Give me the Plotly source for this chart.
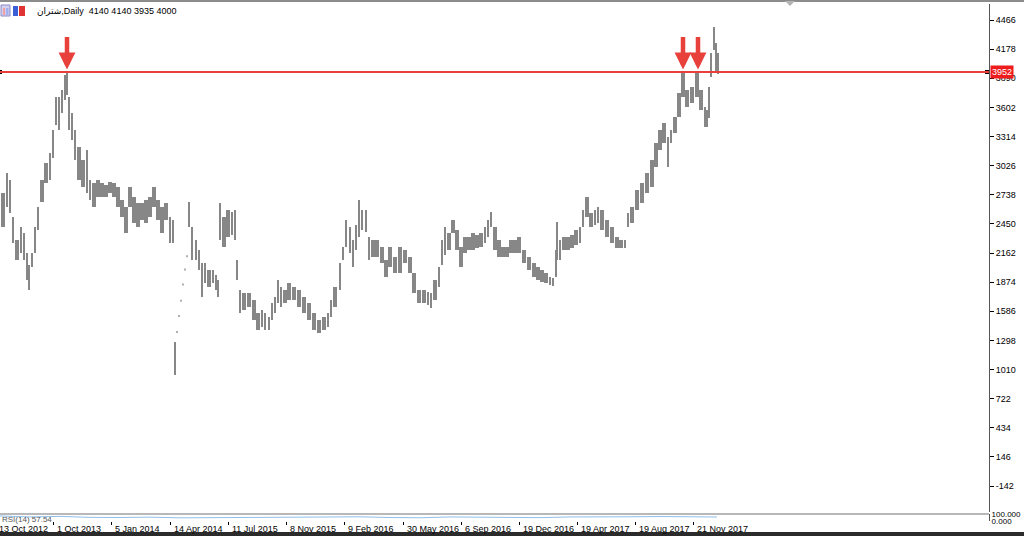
import numpy as np
import plotly.graph_objects as go

# ---------------- data ----------------
bar_idx = [3, 7, 10, 13, 17, 21, 24, 27, 29, 32, 35, 38, 42, 46, 50, 53, 56, 59, 62, 65,
           67, 69, 72, 75, 79, 83, 87, 90, 94, 98, 102, 106, 110, 114, 118, 122, 126, 130, 134, 138,
           142, 146, 150, 154, 158, 162, 166, 170, 173, 175, 189, 192, 196, 199, 202, 205, 209, 213, 216, 218,
           220, 224, 228, 232, 235, 237, 240, 244, 249, 254, 258, 262, 265, 269, 272, 275, 278, 281, 285, 289,
           294, 299, 304, 309, 314, 319, 324, 328, 331, 335, 340, 343, 346, 350, 353, 356, 359, 362, 366, 369,
           373, 377, 382, 386, 390, 395, 400, 405, 410, 414, 419, 424, 428, 431, 435, 439, 442, 445, 449, 453,
           457, 461, 465, 469, 473, 477, 481, 485, 488, 491, 495, 499, 503, 507, 511, 515, 519, 524, 529, 534,
           538, 542, 546, 550, 553, 556, 557, 560, 564, 568, 572, 576, 580, 583, 587, 591, 595, 598, 602, 607,
           612, 617, 621, 625, 628, 632, 637, 642, 647, 652, 656, 660, 664, 668, 671, 675, 679, 683, 687, 692,
           697, 701, 705, 707, 709, 711, 714, 716, 718]
high = [2755, 2953, 2884, 2518, 2291, 2419, 2360, 2162, 2043, 2162, 2419, 2617, 2884, 3052, 3151, 3378, 3705, 3705, 3774, 3922,
        3952, 3705, 3547, 3378, 3210, 3082, 3181, 2884, 2854, 2884, 2854, 2835, 2864, 2854, 2815, 2686, 2617, 2815, 2716, 2657,
        2657, 2686, 2716, 2815, 2686, 2617, 2657, 2518, 2488, 1282, 2666, 2419, 2291, 2192, 2063, 2063, 1994, 1994, 1945, 1895,
        2657, 2518, 2587, 2568, 2587, 2093, 1796, 1767, 1767, 1697, 1569, 1599, 1569, 1529, 1668, 1727, 1895, 1826, 1796, 1866,
        1826, 1796, 1727, 1668, 1569, 1500, 1529, 1569, 1697, 1826, 2063, 2221, 2488, 2419, 2291, 2440, 2686, 2587, 2587, 2320,
        2291, 2291, 2221, 2093, 2221, 2123, 2221, 2192, 2123, 1964, 1796, 1796, 1776, 1767, 1895, 2024, 2291, 2419, 2360, 2488,
        2390, 2221, 2320, 2320, 2360, 2340, 2360, 2419, 2488, 2568, 2419, 2291, 2221, 2221, 2291, 2291, 2320, 2192, 2123, 2063,
        2024, 1994, 1964, 1925, 1915, 2192, 2469, 2291, 2320, 2320, 2340, 2390, 2419, 2587, 2716, 2558, 2587, 2617, 2587, 2488,
        2419, 2320, 2291, 2291, 2558, 2617, 2785, 2854, 2953, 3082, 3250, 3378, 3448, 3309, 3378, 3507, 3744, 3952, 3774, 3804,
        3945, 3774, 3606, 3580, 3800, 4140, 4397, 4239, 4140]
low = [2420, 2617, 2558, 2261, 2093, 2162, 2093, 1895, 1796, 2024, 2162, 2390, 2666, 2854, 2884, 3100, 3428, 3378, 3547, 3675,
       3724, 3378, 3280, 3082, 2884, 2815, 2755, 2686, 2617, 2716, 2716, 2716, 2755, 2716, 2617, 2518, 2360, 2617, 2459, 2419,
       2488, 2459, 2518, 2617, 2488, 2360, 2488, 2261, 2261, 956, 2419, 2093, 2093, 1994, 1727, 1866, 1826, 1866, 1796, 1727,
       2291, 2221, 2320, 2340, 2291, 1895, 1569, 1599, 1628, 1500, 1401, 1430, 1401, 1401, 1500, 1569, 1668, 1628, 1668, 1697,
       1697, 1628, 1569, 1500, 1401, 1371, 1401, 1430, 1529, 1628, 1796, 2093, 2221, 2162, 2024, 2192, 2320, 2390, 2370, 2093,
       2123, 2123, 2063, 1925, 2024, 1964, 1964, 2063, 1964, 1767, 1668, 1668, 1648, 1618, 1697, 1826, 2043, 2143, 2192, 2360,
       2192, 2024, 2162, 2192, 2192, 2212, 2221, 2261, 2320, 2419, 2192, 2123, 2123, 2123, 2162, 2162, 2162, 2063, 1994, 1925,
       1895, 1875, 1866, 1846, 1836, 1925, 2093, 2093, 2192, 2192, 2212, 2241, 2261, 2419, 2518, 2419, 2439, 2459, 2390, 2320,
       2261, 2212, 2212, 2212, 2419, 2459, 2587, 2657, 2755, 2815, 3012, 3181, 3250, 3012, 3250, 3349, 3507, 3705, 3606, 3645,
       3705, 3576, 3408, 3408, 3500, 3902, 4169, 3942, 3935]

# isolated single-price bars (dotted stretch)
dot_idx = [177, 179, 181, 183, 185, 187]
dot_val = [1380, 1540, 1690, 1850, 2000, 2130]

# RSI(14) sub-window (rough reading)
rsi_idx = [0, 30, 60, 90, 120, 150, 180, 210, 240, 270, 300, 330, 360, 390, 420, 450, 480,
           510, 540, 570, 600, 630, 660, 690, 717]
rsi_val = [72, 58, 66, 52, 50, 55, 45, 48, 44, 52, 50, 55, 60, 50, 46, 58, 55,
           52, 48, 58, 55, 60, 64, 60, 57]

resistance = 3952
arrow_idx = [67, 683, 698]

y_ticks = [4466, 4178, 3890, 3602, 3314, 3026, 2738, 2450, 2162, 1874, 1586, 1298,
           1010, 722, 434, 146, -142]
date_tick_idx = [-5, 53, 111, 170, 228, 286, 344, 403, 461, 519, 577, 635, 693]
date_labels = ["13 Oct 2012", "1 Oct 2013", "5 Jan 2014", "14 Apr 2014", "11 Jul 2015",
               "8 Nov 2015", "9 Feb 2016", "30 May 2016", "6 Sep 2016", "19 Dec 2016",
               "19 Apr 2017", "19 Aug 2017", "21 Nov 2017"]

header_text = "شتران,Daily  4140 4140 3935 4000"

# ---------------- layout geometry ----------------
W, H = 1024, 536
PL, PR, PT, PB = 0, 989, 4, 522      # plot area in pixels
MAIN_B = 512
RSI_T, RSI_B = 514, 521
PH = PB - PT

def py(p):   # pixel y -> paper y
    return (PB - p) / PH

def px(p):   # pixel x -> paper x
    return (p - PL) / (PR - PL)

# main y scale: 4466 at pixel 20, -142 at pixel 486
per_px = (4466 - (-142)) / (486 - 20)
y_max = 4466 + (20 - PT) * per_px
y_min = 4466 - (MAIN_B - 20) * per_px

GRAY = "#878787"
RED = "#e8413c"
FONT = "Liberation Sans"

x = np.array(bar_idx, dtype=float)
hi = np.array(high, dtype=float)
lo = np.array(low, dtype=float)
gaps = np.diff(x)
w = np.minimum(np.r_[gaps, gaps[-1]], np.r_[gaps[0], gaps])
w = np.clip(w * 0.9, 1.2, 4.0)

fig = go.Figure()
fig.add_trace(go.Bar(x=x, y=hi - lo, base=lo, width=w,
                     marker=dict(color=GRAY, line=dict(width=0)),
                     showlegend=False, hoverinfo="skip"))
fig.add_trace(go.Scatter(x=dot_idx, y=dot_val, mode="markers",
                         marker=dict(color="#b0b0b0", size=2, symbol="square"),
                         showlegend=False, hoverinfo="skip"))
fig.add_trace(go.Scatter(x=rsi_idx, y=rsi_val, yaxis="y2", mode="lines",
                         line=dict(color="#8fbfe8", width=1),
                         showlegend=False, hoverinfo="skip"))
fig.add_trace(go.Scatter(x=[0, PR - 2], y=[resistance, resistance], mode="markers",
                         marker=dict(color="black", size=4, symbol="square"),
                         cliponaxis=False, showlegend=False, hoverinfo="skip"))

shapes = []
shapes.append(dict(type="line", xref="paper", yref="y", x0=0, x1=1,
                   y0=resistance, y1=resistance, line=dict(color=RED, width=2)))
shapes.append(dict(type="rect", xref="paper", yref="paper", x0=0, x1=px(W),
                   y0=py(0), y1=py(2), fillcolor="#8c8c8c", line=dict(width=0), layer="above"))
tx = px(790)
shapes.append(dict(type="path", xref="paper", yref="paper",
                   path=f"M {tx - px(5)} {py(1)} L {tx + px(5)} {py(1)} L {tx} {py(6)} Z",
                   fillcolor="#b4b4b4", line=dict(width=0)))
shapes.append(dict(type="rect", xref="paper", yref="paper", x0=0, x1=1,
                   y0=py(RSI_T + 1), y1=py(RSI_T - 1), fillcolor="#b8b8b8", line=dict(width=0)))
shapes.append(dict(type="rect", xref="paper", yref="paper", x0=0, x1=px(W),
                   y0=py(H + 2), y1=py(532), fillcolor="#2b2b2b", line=dict(width=0),
                   layer="above"))
shapes.append(dict(type="rect", xref="paper", yref="paper", x0=px(1), x1=px(10),
                   y0=py(16), y1=py(5), fillcolor="#d4d0f0", line=dict(color="#8a8ac8", width=1)))
shapes.append(dict(type="rect", xref="paper", yref="paper", x0=px(3), x1=px(5),
                   y0=py(15), y1=py(8), fillcolor="#f0a0a0", line=dict(width=0)))
shapes.append(dict(type="rect", xref="paper", yref="paper", x0=px(6), x1=px(8.5),
                   y0=py(15), y1=py(8), fillcolor="#a0b0f0", line=dict(width=0)))
shapes.append(dict(type="rect", xref="paper", yref="paper", x0=px(13), x1=px(18),
                   y0=py(16), y1=py(6), fillcolor="#3b5fd6", line=dict(width=0)))
shapes.append(dict(type="rect", xref="paper", yref="paper", x0=px(19), x1=px(25),
                   y0=py(16), y1=py(6), fillcolor="#e03434", line=dict(width=0)))

annotations = []
annotations.append(dict(xref="paper", yref="paper", x=px(35), y=py(11), xanchor="left",
                        yanchor="middle", text=header_text, showarrow=False,
                        font=dict(family="Liberation Sans, DejaVu Sans", size=9, color="black")))
for xi in arrow_idx:
    annotations.append(dict(xref="x", yref="y", x=xi, y=resistance + 25, text="",
                            showarrow=True, arrowhead=2, arrowsize=0.75, arrowwidth=4.5,
                            arrowcolor=RED, ax=0, ay=-34, standoff=0, startstandoff=0))
annotations.append(dict(xref="paper", yref="y", x=1, y=resistance, xanchor="left",
                        yanchor="middle", xshift=1, text="3952", showarrow=False,
                        bgcolor="#ee1c1c", borderpad=1,
                        font=dict(family=FONT, size=9, color="white")))
for xi, lab in zip(date_tick_idx, date_labels):
    if xi < 0:
        annotations.append(dict(xref="paper", yref="paper", x=0, y=py(528.5), xanchor="left",
                                yanchor="middle", xshift=xi + 2, text=lab, showarrow=False,
                                font=dict(family=FONT, size=9, color="black")))
    else:
        annotations.append(dict(xref="x", yref="paper", x=xi, y=py(528.5), xanchor="left",
                                yanchor="middle", xshift=2, text=lab, showarrow=False,
                                font=dict(family=FONT, size=9, color="black")))
annotations.append(dict(xref="paper", yref="paper", x=0, y=py(519), xanchor="left",
                        yanchor="middle", text="RSI(14) 57.54", showarrow=False,
                        font=dict(family=FONT, size=8, color="#555555")))

fig.update_layout(
    width=W, height=H, autosize=False,
    margin=dict(l=PL, r=W - PR, t=PT, b=H - PB, pad=0, autoexpand=False),
    paper_bgcolor="white", plot_bgcolor="white",
    barmode="overlay", bargap=0,
    showlegend=False,
    shapes=shapes, annotations=annotations,
    xaxis=dict(range=[0, PR - PL], anchor="y2", showgrid=False, zeroline=False,
               tickmode="array", tickvals=date_tick_idx, ticktext=[""] * len(date_tick_idx),
               ticks="outside", ticklen=3, tickcolor="black", showline=False,
               showticklabels=False, fixedrange=True),
    yaxis=dict(domain=[py(MAIN_B), 1], range=[y_min, y_max], side="right",
               showgrid=False, zeroline=False, tickmode="array", tickvals=y_ticks,
               ticktext=[str(v) for v in y_ticks], ticks="outside", ticklen=4,
               tickcolor="black", showline=True, linecolor="#555555", linewidth=1,
               tickfont=dict(family=FONT, size=9, color="black")),
    yaxis2=dict(domain=[py(RSI_B), py(RSI_T)], range=[0, 100], side="right",
                showgrid=False, zeroline=False, tickmode="array", tickvals=[0, 100],
                ticktext=["0.000", "100.000"], ticks="", showline=True,
                linecolor="#555555", linewidth=1,
                tickfont=dict(family=FONT, size=8, color="black")),
)

fig.write_html("out.html", config={"displayModeBar": False},
               post_script="document.body.style.margin='0';document.body.style.overflow='hidden';")
